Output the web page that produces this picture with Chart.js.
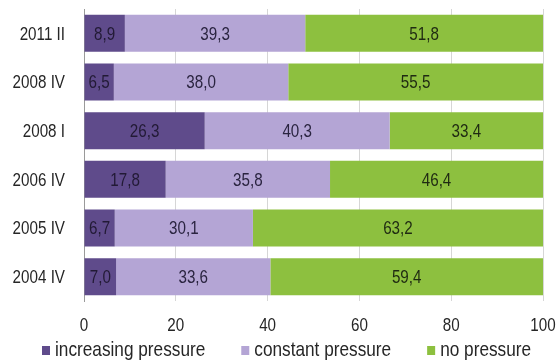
<!DOCTYPE html>
<html>
<head>
<meta charset="utf-8">
<script src="https://cdn.jsdelivr.net/npm/chart.js@4/dist/chart.umd.min.js"></script>
<style>
  html, body { margin: 0; padding: 0; background: #ffffff; }
  #wrap { width: 556px; height: 362px; position: relative; }
</style>
</head>
<body>
<div id="wrap"><canvas id="chart" width="556" height="362"></canvas></div>
<script>
// Survey periods, top to bottom
const categories = ['2011 II', '2008 IV', '2008 I', '2006 IV', '2005 IV', '2004 IV'];

// Shares of respondents (%)
const increasingPressure = [8.9, 6.5, 26.3, 17.8, 6.7, 7.0];
const constantPressure   = [39.3, 38.0, 40.3, 35.8, 30.1, 33.6];
const noPressure         = [51.8, 55.5, 33.4, 46.4, 63.2, 59.4];

const xTicks = [0, 20, 40, 60, 80, 100];

const FONT = '"Liberation Sans", Arial, sans-serif';
const NARROW = 0.8; // horizontal squeeze for a narrow-style face

// Draws condensed text by scaling the x axis of the context
function narrowText(ctx, text, x, y, align, size, color, squeeze) {
  const k = squeeze || NARROW;
  ctx.save();
  ctx.font = size + 'px ' + FONT;
  ctx.fillStyle = color;
  ctx.textBaseline = 'middle';
  ctx.textAlign = align;
  ctx.translate(x, y);
  ctx.scale(k, 1);
  ctx.fillText(text, 0, 0);
  ctx.restore();
}

function narrowWidth(ctx, text, size, squeeze) {
  ctx.save();
  ctx.font = size + 'px ' + FONT;
  const w = ctx.measureText(text).width * (squeeze || NARROW);
  ctx.restore();
  return w;
}

// Value labels in each bar segment, tick labels and the legend row
const textLayer = {
  id: 'textLayer',
  afterDraw(chart) {
    const ctx = chart.ctx;
    const xs = chart.scales.x, ys = chart.scales.y;

    chart.data.datasets.forEach((ds, i) => {
      chart.getDatasetMeta(i).data.forEach((bar, j) => {
        const v = ds.data[j];
        narrowText(ctx, v.toFixed(1).replace('.', ','), (bar.x + bar.base) / 2, bar.y + 1,
          'center', 19, ds.labelColor);
      });
    });

    categories.forEach((c, i) => {
      narrowText(ctx, c, ys.left + ys.width - 19, ys.getPixelForValue(i) + 1, 'right', 19, '#262626');
    });

    xTicks.forEach(v => {
      narrowText(ctx, String(v), xs.getPixelForValue(v), 326, 'center', 19, '#262626');
    });

    // legend
    let x = 42;
    const ly = 350, box = 8, size = 21, sq = 0.82;
    chart.data.datasets.forEach(ds => {
      ctx.fillStyle = ds.backgroundColor;
      ctx.fillRect(x, ly - box / 2, box, box + 1);
      const tx = x + box + 5;
      narrowText(ctx, ds.label, tx, ly, 'left', size, '#262626', sq);
      x = tx + narrowWidth(ctx, ds.label, size, sq) + 36;
    });
  }
};

new Chart(document.getElementById('chart'), {
  type: 'bar',
  data: {
    labels: categories,
    datasets: [
      { label: 'increasing pressure', data: increasingPressure, backgroundColor: '#5f4b8b', labelColor: '#221a35' },
      { label: 'constant pressure', data: constantPressure, backgroundColor: '#b4a5d5', labelColor: '#2a2440' },
      { label: 'no pressure', data: noPressure, backgroundColor: '#8dc03f', labelColor: '#1f2a12' }
    ]
  },
  options: {
    indexAxis: 'y',
    responsive: false,
    animation: false,
    layout: { padding: { left: 0, right: 13, top: 9, bottom: 61 } },
    datasets: { bar: { categoryPercentage: 0.76, barPercentage: 1.0, borderWidth: 0 } },
    scales: {
      x: {
        stacked: true,
        min: 0,
        max: 100,
        afterBuildTicks(scale) { scale.ticks = xTicks.map(v => ({ value: v })); },
        afterFit(scale) { scale.height = 0; },
        grid: { color: '#d6d6d6', drawTicks: false, lineWidth: 1 },
        border: { display: false },
        ticks: { display: false }
      },
      y: {
        stacked: true,
        afterFit(scale) { scale.width = 84; },
        grid: { display: false, drawTicks: false },
        border: { display: true, color: '#9a9a9a', dash: [2, 2], width: 1 },
        ticks: { display: false }
      }
    },
    plugins: {
      legend: { display: false },
      tooltip: { enabled: false }
    }
  },
  plugins: [textLayer]
});
</script>
</body>
</html>
